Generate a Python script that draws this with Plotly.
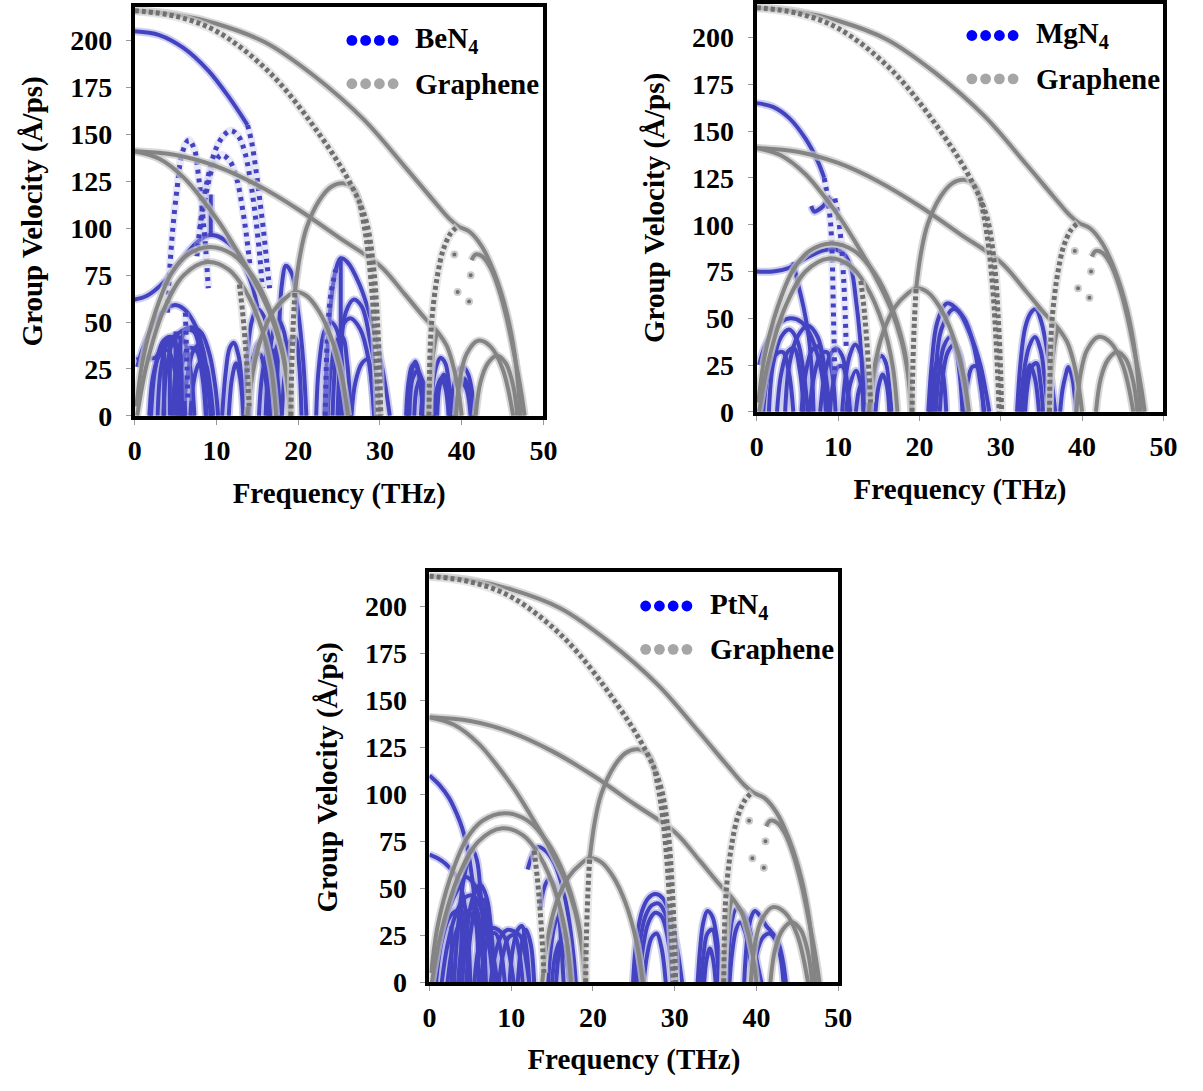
import plotly.graph_objects as go

W, H = 1203, 1091

FREQ_TICKS = [0, 10, 20, 30, 40, 50]
VEL_TICKS = [0, 25, 50, 75, 100, 125, 150, 175, 200]

# ---------------- graphene (same reference curves in every panel) ----------------
graphene_solid = [
    ([0, 5, 10, 16, 22, 28, 33, 36.5, 38.5, 39.6, 41, 42.5, 44, 45.5, 46.5, 47.2],
     [216, 214, 209, 199, 181, 158, 133, 115, 105, 101, 98, 90, 76, 55, 32, 0]),
    ([41.2, 41.7, 42.5, 43.5, 44.5, 45.5, 46.5, 47.3, 47.7],
     [83, 86, 85, 79, 68, 52, 31, 12, 0]),
    ([0, 5, 10, 15, 20, 25, 30, 33, 35.5, 37, 38.2, 39.1, 39.7, 40],
     [141, 139, 133, 123, 110, 95, 80, 65, 52, 45, 37, 24, 10, 0]),
    ([0, 3, 6, 8.5, 10.5, 12.5, 14.5, 16.5, 17.8, 18.6, 19],
     [141, 137, 127, 114, 102, 88, 73, 55, 38, 20, 0]),
    ([0.2, 1, 2.5, 4.5, 6.5, 9.2, 12, 14.5, 16.5, 18, 18.8, 19.1],
     [5, 30, 55, 76, 86, 90, 86, 74, 57, 36, 15, 0]),
    ([0.3, 1.5, 3.5, 6, 8.9, 11.5, 13.5, 15.5, 16.7, 17.3],
     [0, 28, 56, 75, 82, 78, 67, 47, 25, 0]),
    ([13.8, 14.4, 15.5, 17, 18.5, 19.6, 21, 22.5, 24, 25.3, 26.1],
     [0, 22, 42, 56, 63, 66, 64, 56, 42, 22, 0]),
    ([19.6, 20.2, 21, 22.6, 24, 25.5, 26.8, 27.6],
     [66, 85, 100, 115, 122, 124, 121, 112]),
    ([35.9, 36.2, 36.6, 37], [0, 20, 36, 45]),
    ([39.3, 39.8, 40.6, 42, 43.5, 45, 46.3], [0, 20, 33, 40, 37, 25, 0]),
    ([41.7, 42.3, 43.2, 44.3, 45.4, 46.3, 46.8], [0, 18, 28, 32, 28, 16, 0]),
]
graphene_dotted = [
    ([0, 5, 10, 16.5, 22.6, 26.6, 28.3, 29.2, 29.7, 30, 30.1],
     [216, 213, 205, 183, 150, 122, 104, 80, 50, 20, 0]),
    ([27.6, 28.3, 28.9, 29.3, 29.6, 29.8], [112, 95, 72, 48, 22, 0]),
    ([19.1, 19.2, 19.4, 19.6], [0, 25, 50, 66]),
    ([12.8, 13.2, 13.5, 13.8, 14], [70, 55, 40, 21, 5]),
    ([36, 36.05, 36.2, 36.5, 37, 37.7, 38.6, 39.5], [0, 20, 42, 58, 74, 88, 97, 101]),
]
graphene_scatter_f = [39.1, 39.5, 41.1, 40.9]
graphene_scatter_v = [86, 66, 75, 61]

# ---------------- BeN4 ----------------
ben4_solid = [
    ([0, 3, 6, 9, 11.5, 13.8], [205, 203, 196, 184, 170, 155]),
    ([0, 1.5, 3.5, 5.5, 7.5, 8.8, 10, 11.5, 12.5, 13.5, 14.4, 15],
     [62, 64, 71, 82, 92, 96, 96, 92, 87, 79, 69, 58]),
    ([9.3, 9.3], [118, 96]),
    ([0.2, 1, 2.5, 3.5, 5, 6.5, 7.3, 8.2, 9.2, 9.9, 10.2], [30, 31, 31, 38, 43, 47, 47, 44, 32, 14, 0]),
    ([0.3, 1, 2.2, 3.5, 4.8, 6, 7.2, 8.2, 8.9, 9.3], [26, 36, 48, 56, 59, 57, 50, 38, 18, 0]),
    ([2, 2.5, 3.5, 4.5, 5.5, 6.2], [0, 25, 40, 42, 30, 0]),
    ([3.5, 4, 5, 6, 6.8, 7.3], [0, 28, 42, 40, 25, 0]),
    ([4.6, 5.2, 6.2, 7.2, 8.2, 8.8], [0, 30, 45, 45, 28, 0]),
    ([5.2, 5.6, 6.5, 7.5, 8.3, 8.7], [0, 22, 36, 35, 20, 0]),
    ([1.8, 2.2, 3, 4, 5, 5.6], [0, 20, 32, 35, 22, 0]),
    ([2.8, 3.2, 4, 4.8, 5.5, 6], [0, 25, 38, 38, 20, 0]),
    ([6, 6.4, 7.2, 8, 8.8, 9.4], [0, 20, 35, 38, 25, 0]),
    ([6.8, 7.2, 7.9, 8.6, 9.2, 9.6], [0, 18, 28, 28, 16, 0]),
    ([3.6, 3.6], [0, 38]),
    ([4.3, 4.3], [0, 40]),
    ([5.0, 5.0], [0, 45]),
    ([5.6, 5.6], [0, 42]),
    ([10.7, 11.1, 11.6, 12.1, 12.7, 13.2, 13.5], [0, 22, 36, 39, 32, 15, 0]),
    ([11.5, 11.9, 12.4, 12.9, 13.3], [0, 20, 28, 20, 0]),
    ([13.3, 13.7, 14.3, 15, 15.8, 16.5, 17, 17.3], [0, 28, 50, 57, 53, 38, 20, 0]),
    ([14, 14.4, 15, 15.7, 16.3, 16.7], [0, 25, 38, 40, 25, 0]),
    ([13.6, 14, 14.6, 15.3, 16, 16.4], [0, 20, 32, 33, 20, 0]),
    ([15.2, 15.6, 16.2, 16.8, 17.4, 17.8], [0, 22, 33, 35, 22, 0]),
    ([16, 16.4, 17, 17.6, 18.3, 18.8, 19.1], [0, 28, 46, 51, 44, 25, 0]),
    ([16.5, 16.9, 17.5, 18.2, 18.7, 19], [0, 25, 38, 40, 25, 0]),
    ([17.3, 17.6, 18, 18.5, 19.2, 20, 20.6, 21], [0, 40, 70, 80, 76, 55, 30, 0]),
    ([18, 18.4, 19, 19.6, 20.1, 20.4], [0, 25, 40, 42, 28, 0]),
    ([23.2, 23.5, 24, 24.6, 25.2, 26, 27.5, 29, 30.3, 31.2], [0, 30, 60, 78, 84, 82, 70, 50, 25, 0]),
    ([24.8, 25.2, 25.8, 26.8, 27.8, 28.8, 29.6, 30], [0, 35, 55, 62, 58, 40, 20, 0]),
    ([24.2, 24.6, 25.4, 26.4, 27.6, 28.6, 29.3], [0, 30, 48, 52, 46, 30, 0]),
    ([22.2, 22.5, 23.2, 24, 24.8, 25.4, 25.6], [0, 25, 45, 50, 45, 25, 0]),
    ([23.6, 24, 24.7, 25.4, 26, 26.4], [0, 25, 40, 42, 28, 0]),
    ([26.5, 27, 27.8, 28.5, 29, 29.3], [0, 18, 28, 30, 18, 0]),
    ([25.2, 25.2], [84, 0]),
    ([33.2, 33.5, 34, 34.5, 35, 35.4], [0, 18, 27, 26, 15, 0]),
    ([33.4, 33.8, 34.3, 34.8, 35.3], [0, 22, 29, 22, 0]),
    ([33.6, 34, 34.6, 35.2, 35.6], [0, 20, 24, 18, 0]),
    ([34.2, 34.5, 35, 35.5, 35.8], [0, 15, 20, 15, 0]),
    ([35, 35.4, 35.9, 36.3, 36.6], [0, 14, 18, 12, 0]),
    ([36.2, 36.5, 37, 37.4, 38, 38.5, 38.9], [0, 18, 28, 31, 28, 15, 0]),
    ([36.6, 37, 37.5, 38, 38.4], [0, 15, 20, 15, 0]),
    ([37, 37.3, 37.8, 38.3, 38.6], [0, 16, 22, 16, 0]),
    ([38.6, 39, 39.6, 40.2, 40.8, 41.3, 41.6], [0, 15, 24, 26, 22, 12, 0]),
    ([39, 39.4, 40, 40.6, 41.1], [0, 12, 18, 14, 0]),
    ([39.4, 39.8, 40.3, 40.8, 41.2], [0, 15, 20, 15, 0]),
]
ben4_dotted = [
    ([13.8, 14.3, 14.8, 15.3, 15.8, 16.2, 16.5], [155, 146, 132, 115, 97, 80, 68]),
    ([7.6, 8.2, 9, 10, 11, 11.8, 12.7, 13.5, 14.2, 14.8, 15.3, 15.6],
     [85, 108, 128, 143, 150, 152, 149, 140, 124, 105, 85, 68]),
    ([4.0, 4.2, 4.6, 5.2, 5.8, 6.6, 7.3, 7.8, 8.3, 8.7, 9],
     [55, 72, 97, 122, 140, 147, 142, 128, 108, 88, 68]),
    ([8, 8.8, 9.6, 10.6, 11.6, 12.5, 13.2, 13.7, 14.1], [100, 120, 133, 139, 136, 126, 110, 95, 80]),
    ([6.2, 6.3, 6.4, 6.5], [55, 40, 25, 8]),
    ([23.3, 23.4, 23.6, 24, 24.6], [0, 20, 45, 65, 78]),
]

# ---------------- MgN4 ----------------
mgn4_solid = [
    ([0, 2, 4, 6, 7.5, 8.3], [165, 163, 157, 146, 134, 125]),
    ([6.7, 7.1, 7.6, 8.2, 8.9, 9.2], [110, 107, 108, 110, 114, 112]),
    ([0, 2, 4, 6, 8, 9.5, 10.8, 11.6, 12.2, 12.7, 13, 13.1], [75, 75, 77, 82, 86, 87, 84, 77, 60, 40, 20, 0]),
    ([4.5, 5, 5.8, 6.4, 6.8, 7], [80, 70, 55, 40, 20, 0]),
    ([0.3, 1, 2, 3, 4.2, 5.5, 6.5, 7.5, 8.2, 8.5], [25, 35, 43, 48, 50, 48, 42, 30, 15, 0]),
    ([3.5, 4, 5, 6.3, 7.5, 8.4, 9], [0, 25, 40, 46, 40, 22, 0]),
    ([1.5, 2, 3, 4, 5, 5.8, 6.3], [0, 25, 40, 44, 38, 20, 0]),
    ([2.5, 3, 3.8, 4.6, 5.3, 5.8], [0, 20, 32, 34, 22, 0]),
    ([0.8, 1.3, 2.2, 3.2, 4, 4.5], [0, 18, 30, 32, 20, 0]),
    ([5.5, 6, 6.8, 7.6, 8.3, 8.8], [0, 20, 33, 35, 22, 0]),
    ([6.5, 7, 7.8, 8.6, 9.3, 9.7], [0, 18, 30, 32, 20, 0]),
    ([7.8, 8.3, 9, 9.7, 10.5, 11.1, 11.5], [0, 18, 30, 34, 30, 16, 0]),
    ([9, 9.4, 10, 10.6, 11.1, 11.4], [0, 15, 24, 24, 14, 0]),
    ([10.5, 10.9, 11.5, 12.1, 12.8, 13.4, 13.8], [0, 18, 31, 36, 31, 16, 0]),
    ([11, 11.5, 12.2, 12.8, 13.3], [0, 15, 22, 15, 0]),
    ([12.2, 12.6, 13.2, 13.7, 14], [0, 12, 18, 12, 0]),
    ([14, 14.4, 14.8, 15.3, 15.9, 16.3, 16.6], [0, 18, 27, 30, 26, 14, 0]),
    ([14.6, 15, 15.5, 16, 16.3], [0, 14, 20, 14, 0]),
    ([21.1, 21.5, 22.2, 23.4, 24.8, 26.2, 27.5, 28.2, 28.6], [0, 25, 48, 58, 54, 42, 25, 10, 0]),
    ([21.6, 22, 22.7, 24.2, 25.5, 26.7, 27.5, 28], [0, 22, 44, 55, 50, 35, 15, 0]),
    ([22, 22.4, 23, 23.8, 24.5, 25, 25.3], [0, 20, 35, 40, 33, 18, 0]),
    ([22.5, 22.9, 23.5, 24.3, 25, 25.5, 25.8], [0, 20, 32, 36, 30, 16, 0]),
    ([21.3, 21.7, 22.3, 22.9, 23.3], [0, 18, 28, 20, 0]),
    ([25.5, 25.9, 26.5, 27.1, 27.6, 27.9], [0, 15, 24, 24, 14, 0]),
    ([32, 32.4, 33, 33.7, 34.3, 35, 35.8, 36.3, 36.7], [0, 25, 45, 53, 55, 48, 30, 15, 0]),
    ([32.4, 32.8, 33.5, 34.2, 34.9, 35.4, 35.8], [0, 20, 35, 40, 33, 18, 0]),
    ([32.6, 33, 33.6, 34.2, 34.7], [0, 15, 25, 18, 0]),
    ([33, 33.3, 33.8, 34.4, 34.9, 35.2], [0, 14, 24, 26, 15, 0]),
    ([37.3, 37.6, 38, 38.3, 38.8, 39.1, 39.3], [0, 12, 20, 24, 18, 8, 0]),
]
mgn4_dotted = [
    ([8.3, 8.7, 9.1, 9.3, 9.4, 9.5, 9.6], [125, 115, 100, 80, 60, 40, 20]),
    ([9.6, 10, 10.4, 10.7, 10.9, 11], [114, 105, 90, 70, 50, 35]),
]

# ---------------- PtN4 ----------------
ptn4_solid = [
    ([0, 1.2, 2.4, 3.3, 4, 4.7, 5.2, 5.6, 5.9, 6], [110, 105, 98, 90, 82, 70, 56, 40, 20, 0]),
    ([0, 1, 2, 3.2, 4, 4.5, 4.8, 5], [68, 66, 63, 57, 48, 35, 20, 0]),
    ([3, 3.5, 4.2, 5.2, 5.8, 6.3, 6.7, 6.9], [0, 30, 55, 71, 65, 45, 20, 0]),
    ([0.5, 1.2, 2.3, 3.5, 4.4, 5.5, 6.5, 7.5, 8.3], [0, 20, 38, 50, 56, 52, 40, 22, 0]),
    ([1.5, 2.2, 3.2, 4.3, 5.4, 6.4, 7.2, 7.8], [0, 20, 36, 45, 46, 38, 22, 0]),
    ([2.2, 2.7, 3.5, 4.5, 5.5, 6.3, 6.8], [0, 16, 30, 38, 33, 18, 0]),
    ([0.8, 1.5, 2.5, 3.5, 4.3, 4.8], [0, 22, 35, 38, 25, 0]),
    ([3.5, 4, 4.8, 5.6, 6.3, 6.8], [0, 22, 38, 40, 25, 0]),
    ([4, 4.5, 5.3, 6.2, 7, 7.6, 8], [0, 25, 45, 52, 45, 25, 0]),
    ([4.5, 5, 5.8, 6.6, 7.3, 7.8], [0, 25, 42, 44, 28, 0]),
    ([2.7, 2.7], [0, 30]),
    ([3.9, 3.9], [0, 45]),
    ([5.5, 6, 6.8, 7.6, 8.4, 9.2, 9.8, 10.3], [0, 18, 27, 29, 28, 24, 14, 0]),
    ([6.3, 6.7, 7.4, 8.1, 8.8, 9.2], [0, 15, 25, 26, 15, 0]),
    ([7.5, 8, 8.8, 9.6, 10.4, 11.2, 11.8, 12.2], [0, 14, 25, 28, 27, 24, 12, 0]),
    ([8.5, 9, 9.7, 10.4, 11, 11.4], [0, 15, 24, 25, 15, 0]),
    ([9.8, 10.2, 10.8, 11.3, 11.8, 12.2], [0, 18, 28, 30, 20, 0]),
    ([10.8, 11.2, 11.8, 12.4, 12.8], [0, 18, 28, 20, 0]),
    ([12, 12.6, 13.2, 14.2, 15.3, 16.3, 17, 17.6, 17.9], [60, 68, 72, 70, 63, 50, 35, 15, 0]),
    ([13.6, 14, 14.6, 15.2, 15.7, 16.1, 16.4], [40, 50, 55, 52, 42, 22, 0]),
    ([14.5, 14.9, 15.4, 15.8, 16.4, 17, 17.5], [0, 20, 32, 35, 30, 16, 0]),
    ([15, 15.4, 16, 16.6, 17.1], [0, 15, 22, 16, 0]),
    ([15.5, 15.9, 16.4, 16.9, 17.3], [0, 18, 26, 18, 0]),
    ([24.9, 25.3, 26, 26.8, 27.6, 28.5, 29.5, 30.3, 30.9], [0, 22, 38, 45, 47, 45, 35, 18, 0]),
    ([25.3, 25.7, 26.4, 27.2, 28, 28.8, 29.6, 30.2], [0, 20, 35, 41, 42, 37, 22, 0]),
    ([25.7, 26.1, 26.8, 27.6, 28.4, 29.2, 29.7], [0, 18, 32, 37, 35, 22, 0]),
    ([26.2, 26.6, 27.2, 27.8, 28.4, 28.9], [0, 14, 24, 26, 18, 0]),
    ([32.8, 33.1, 33.5, 34, 34.6, 35.2, 35.5, 35.7], [0, 18, 32, 38, 35, 22, 10, 0]),
    ([33.2, 33.5, 34, 34.6, 35.1, 35.4], [0, 14, 26, 28, 18, 0]),
    ([33.6, 33.9, 34.3, 34.7, 35], [0, 12, 18, 12, 0]),
    ([36.3, 36.6, 37, 37.5, 38.2, 38.9, 39.6, 40.2, 40.6], [0, 18, 33, 39, 38, 32, 20, 8, 0]),
    ([36.7, 37, 37.5, 38, 38.6, 39.2, 39.7], [0, 15, 28, 32, 27, 14, 0]),
    ([38.5, 38.8, 39.3, 39.8, 40.5, 41.2, 41.8, 42.6, 43.2, 43.6], [0, 20, 34, 38, 35, 30, 27, 22, 12, 0]),
    ([39.6, 40, 40.8, 41.6, 42.4, 43, 43.3], [0, 15, 24, 26, 22, 12, 0]),
]
ptn4_dotted = []

MATERIALS = ["BeN<sub>4</sub>", "MgN<sub>4</sub>", "PtN<sub>4</sub>"]

# panel placement in pixels: (left, right, bottom, top)
PANELS = [(130, 546, 422, 7), (763, 1177, 418, 4), (430, 846, 997, 581)]
LEGEND_POS = [(351, 41, 413), (982, 36, 1045), (650, 615, 713)]

BLUE = "#4343c2"
BLUE_HALO = "rgba(165,165,225,0.55)"
GRAY = "#848484"
GRAY_HALO = "rgba(200,200,200,0.7)"
FONT = "Liberation Serif"


def join(curves):
    xs, ys = [], []
    for f, v in curves:
        xs += list(f) + [None]
        ys += list(v) + [None]
    return xs, ys


fig = go.Figure()

blue_sets = [(ben4_solid, ben4_dotted), (mgn4_solid, mgn4_dotted), (ptn4_solid, ptn4_dotted)]

for i, (solid, dotted) in enumerate(blue_sets):
    xa = "x" if i == 0 else f"x{i+1}"
    ya = "y" if i == 0 else f"y{i+1}"
    common = dict(xaxis=xa, yaxis=ya, mode="lines", showlegend=False, hoverinfo="skip",
                  connectgaps=False)
    # material branches
    x, y = join(solid)
    fig.add_trace(go.Scatter(x=x, y=y, line=dict(color=BLUE_HALO, width=8, shape="spline"), **common))
    fig.add_trace(go.Scatter(x=x, y=y, line=dict(color=BLUE, width=4, shape="spline"), **common))
    if dotted:
        x, y = join(dotted)
        fig.add_trace(go.Scatter(x=x, y=y, line=dict(color="rgba(190,190,235,0.35)", width=8, shape="spline"), **common))
        fig.add_trace(go.Scatter(x=x, y=y, line=dict(color=BLUE, width=5, shape="spline", dash="4px,5px"), **common))
    # graphene branches
    x, y = join(graphene_solid)
    fig.add_trace(go.Scatter(x=x, y=y, line=dict(color=GRAY_HALO, width=8, shape="spline"), **common))
    fig.add_trace(go.Scatter(x=x, y=y, line=dict(color=GRAY, width=4, shape="spline"), **common))
    x, y = join(graphene_dotted)
    fig.add_trace(go.Scatter(x=x, y=y, line=dict(color="rgba(215,215,215,0.6)", width=9, shape="spline"), **common))
    fig.add_trace(go.Scatter(x=x, y=y, line=dict(color="#6f6f6f", width=5, shape="spline", dash="4px,3px"), **common))
    fig.add_trace(go.Scatter(x=graphene_scatter_f, y=graphene_scatter_v, xaxis=xa, yaxis=ya,
                             mode="markers", showlegend=False, hoverinfo="skip",
                             marker=dict(color="#6f6f6f", size=6, line=dict(color="#cccccc", width=2))))

layout = dict(width=W, height=H, margin=dict(l=0, r=0, t=0, b=0),
              plot_bgcolor="white", paper_bgcolor="white", showlegend=False)

for i, (l, r, b, t) in enumerate(PANELS):
    sx = "xaxis" if i == 0 else f"xaxis{i+1}"
    sy = "yaxis" if i == 0 else f"yaxis{i+1}"
    ya = "y" if i == 0 else f"y{i+1}"
    xa = "x" if i == 0 else f"x{i+1}"
    layout[sx] = dict(domain=[l / W, r / W], range=[0, 50], anchor=ya,
                      tickvals=FREQ_TICKS, ticks="outside", ticklen=5, tickcolor="#999",
                      ticklabelstandoff=2,
                      showline=True, linewidth=4, linecolor="black", mirror=True,
                      showgrid=False, zeroline=False,
                      tickfont=dict(family=FONT, size=28, color="black", weight="bold"),
                      title=dict(text="Frequency (THz)", standoff=18,
                                 font=dict(family=FONT, size=29, color="black", weight="bold")))
    layout[sy] = dict(domain=[1 - b / H, 1 - t / H], range=[0, 218], anchor=xa,
                      tickvals=VEL_TICKS, ticks="outside", ticklen=5, tickcolor="#999",
                      ticklabelstandoff=8,
                      showline=True, linewidth=4, linecolor="black", mirror=True,
                      showgrid=False, zeroline=False,
                      tickfont=dict(family=FONT, size=28, color="black", weight="bold"),
                      title=dict(text="Group Velocity (Å/ps)", standoff=20,
                                 font=dict(family=FONT, size=29, color="black", weight="bold")))

fig.update_layout(**layout)

# legend rows drawn as four dots plus a label
shapes, annots = [], []
for i, (cx0, cy, tx) in enumerate(LEGEND_POS):
    for row, (col, label) in enumerate([("#0000ff", MATERIALS[i]), ("#a6a6a6", "Graphene")]):
        yy = cy + row * 44
        for k in range(4):
            cx = cx0 + k * 14
            rr = 5.5
            shapes.append(dict(type="circle", xref="paper", yref="paper",
                               x0=(cx - rr) / W, x1=(cx + rr) / W,
                               y0=1 - (yy + rr) / H, y1=1 - (yy - rr) / H,
                               fillcolor=col, line=dict(width=0)))
        annots.append(dict(xref="paper", yref="paper", x=tx / W, y=1 - yy / H,
                           xanchor="left", yanchor="middle", showarrow=False, text=label,
                           font=dict(family=FONT, size=29, color="black", weight="bold")))

fig.update_layout(shapes=shapes, annotations=annots)
fig.write_html("out.html")
